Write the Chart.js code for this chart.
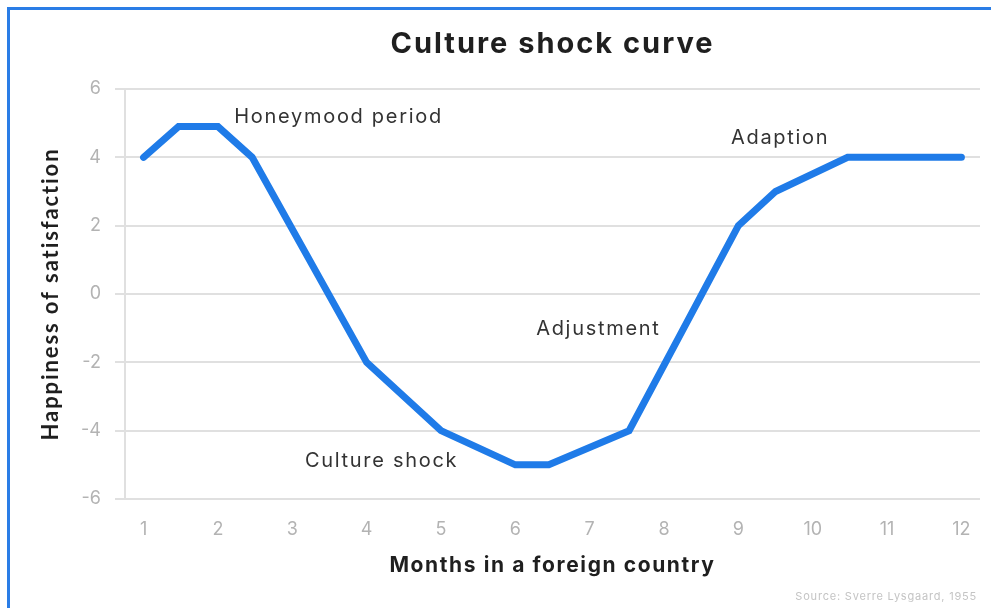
<!DOCTYPE html>
<html>
  <head>
    <meta charset="utf-8">
    <script src="https://cdn.jsdelivr.net/npm/chart.js@4.4.1/dist/chart.umd.min.js"></script>
    <style>
      html, body { margin: 0; padding: 0; background: #fff; }
      #wrap { position: relative; width: 991px; height: 608px; }
      #frame {
        position: absolute; left: 7px; top: 7px; right: 0; bottom: 0;
        border-top: 3px solid #2a7de6; border-left: 3px solid #2a7de6;
        pointer-events: none;
      }
    </style>
  </head>
  <body>
    <div id="wrap">
      <canvas id="shockChart" width="991" height="608"></canvas>
      <div id="frame"></div>
    </div>
    <script>
      // months (x) and happiness (y)
      const months    = [1, 1.47, 2, 2.46, 4, 5, 6, 6.45, 7.53, 9, 9.5, 10.47, 12];
      const happiness = [4, 4.9, 4.9, 4, -2, -4, -5, -5, -4, 2, 3, 4, 4];
      const xTicks = [1, 2, 3, 4, 5, 6, 7, 8, 9, 10, 11, 12];
      const yTicks = [-6, -4, -2, 0, 2, 4, 6];

      const noteTexts = ['Honeymood period', 'Adaption', 'Adjustment', 'Culture shock'];
      const noteX     = [2.22, 8.9, 6.28, 3.17];
      const noteY     = [5.18, 4.57, -1.02, -4.89];

      const FONT = 'Inter, "Open Sans", sans-serif';

      function txt(ctx, s, x, y, font, color, align, spacing) {
        ctx.font = font;
        ctx.fillStyle = color;
        ctx.textAlign = align;
        ctx.letterSpacing = (spacing || 0) + 'px';
        ctx.fillText(s, x, y);
      }

      const textPlugin = {
        id: 'texts',
        afterDraw(chart) {
          const ctx = chart.ctx;
          const xs = chart.scales.x, ys = chart.scales.y;
          const area = chart.chartArea;
          const cx = (area.left + area.right) / 2;
          ctx.save();
          ctx.textBaseline = 'middle';
          noteTexts.forEach((t, i) => {
            txt(ctx, t, xs.getPixelForValue(noteX[i]), ys.getPixelForValue(noteY[i]),
                '20px ' + FONT, '#333', 'left', 1.7);
          });
          txt(ctx, 'Culture shock curve', cx, 44, 'bold 29px ' + FONT, '#1f1f1f', 'center', 2);
          txt(ctx, 'Months in a foreign country', cx, 566, 'bold 21px ' + FONT, '#1f1f1f', 'center', 1.6);
          txt(ctx, 'Source: Sverre Lysgaard, 1955', 977, 597, '11px ' + FONT, '#c4c4c4', 'right', 0.8);
          ctx.translate(51, (area.top + area.bottom) / 2);
          ctx.rotate(-Math.PI / 2);
          txt(ctx, 'Happiness of satisfaction', 0, 0, 'bold 22px Lato, sans-serif', '#1f1f1f', 'center', 1.9);
          ctx.restore();
        }
      };

      new Chart(document.getElementById('shockChart'), {
        type: 'line',
        data: {
          datasets: [{
            data: months.map((m, i) => ({x: m, y: happiness[i]})),
            borderColor: '#1f7be8',
            borderWidth: 7,
            borderCapStyle: 'round',
            borderJoinStyle: 'miter',
            pointRadius: 0,
            tension: 0
          }]
        },
        options: {
          responsive: false,
          animation: false,
          layout: { padding: { top: 89, right: 11, left: 60, bottom: 0 } },
          plugins: { legend: { display: false }, tooltip: { enabled: false } },
          scales: {
            x: {
              type: 'linear',
              min: 0.75,
              max: 12.25,
              afterBuildTicks: s => { s.ticks = xTicks.map(v => ({value: v})); },
              afterFit: s => { s.height = 109; },
              grid: { display: false },
              border: { display: false },
              ticks: { color: '#b3b3b3', font: { family: FONT, size: 18 }, padding: 12 }
            },
            y: {
              min: -6,
              max: 6,
              afterBuildTicks: s => { s.ticks = yTicks.map(v => ({value: v})); },
              afterFit: s => { s.width = 65; },
              grid: { color: '#e0e0e0', lineWidth: 2, tickLength: 10 },
              border: { display: true, color: '#e0e0e0', width: 2 },
              ticks: { color: '#b3b3b3', font: { family: FONT, size: 18 }, padding: 14 }
            }
          }
        },
        plugins: [textPlugin]
      });
    </script>
  </body>
</html>
